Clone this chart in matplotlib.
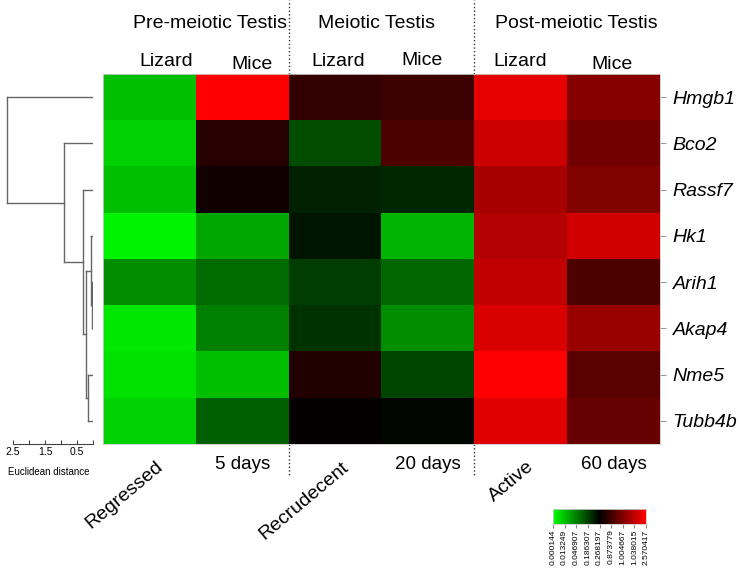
import numpy as np
import matplotlib
matplotlib.use('Agg')
import matplotlib.pyplot as plt
from matplotlib.colors import LinearSegmentedColormap

plt.rcParams['font.family'] = ['Liberation Sans', 'DejaVu Sans']

# data
genes = ['Hmgb1', 'Bco2', 'Rassf7', 'Hk1', 'Arih1', 'Akap4', 'Nme5', 'Tubb4b']
groups = ['Pre-meiotic Testis', 'Meiotic Testis', 'Post-meiotic Testis']
species = ['Lizard', 'Mice', 'Lizard', 'Mice', 'Lizard', 'Mice']
stages = ['Regressed', '5 days', 'Recrudecent', '20 days', 'Active', '60 days']
stage_rot = [40, 0, 40, 0, 40, 0]

# scaled expression (-1 = full green, 0 = black, 1 = full red)
hmgb1 = [-0.75, 1.00, 0.20, 0.24, 0.90, 0.53]
bco2 = [-0.82, 0.15, -0.30, 0.30, 0.80, 0.45]
rassf7 = [-0.75, 0.07, -0.14, -0.16, 0.65, 0.50]
hk1 = [-0.95, -0.65, -0.08, -0.70, 0.70, 0.82]
arih1 = [-0.55, -0.42, -0.24, -0.40, 0.75, 0.30]
akap4 = [-0.90, -0.50, -0.20, -0.55, 0.85, 0.60]
nme5 = [-0.88, -0.75, 0.13, -0.27, 1.00, 0.35]
tubb4b = [-0.82, -0.37, 0.02, -0.02, 0.88, 0.40]

# dendrogram merges: (left node, right node, height); leaves are 0..7, new nodes 8..
merges = [(4, 5, 0.02), (3, 8, 0.06), (6, 7, 0.16), (9, 10, 0.22),
          (2, 11, 0.31), (1, 12, 0.90), (0, 13, 2.69)]

cbar_labels = ['0.000144', '0.013249', '0.046907', '0.186307', '0.268197',
               '0.873779', '1.004667', '1.038015', '2.570417']

values = np.array([hmgb1, bco2, rassf7, hk1, arih1, akap4, nme5, tubb4b])
cmap = LinearSegmentedColormap.from_list('gbr', ['#00ff00', '#000000', '#ff0000'])

W, H = 740, 570
fig = plt.figure(figsize=(W / 100, H / 100), dpi=100)

def px(x0, y0, x1, y1):
    return [x0 / W, 1 - y1 / H, (x1 - x0) / W, (y1 - y0) / H]

# heatmap
ax = fig.add_axes(px(103, 74, 660, 444))
ax.imshow(values, cmap=cmap, vmin=-1, vmax=1, aspect='auto', interpolation='nearest')
ax.set_xticks([])
ax.yaxis.tick_right()
ax.set_yticks(range(len(genes)))
ax.set_yticklabels(genes, fontsize=14, style='italic')
ax.tick_params(axis='y', length=4, color='#999999', pad=5)
for s in ax.spines.values():
    s.set_color('#cccccc')
    s.set_linewidth(0.6)

for i, g in enumerate(groups):
    ax.text(2 * i + 0.5 + [0.15, -0.05, 0.1][i], -1.6, g, ha='center', va='center', fontsize=14)
sp_off = [0.18, 0.1, 0.03, -0.06, -0.01, -0.02]
sp_y = [-0.76, -0.7, -0.76, -0.8, -0.76, -0.7]
for j, s in enumerate(species):
    ax.text(j + sp_off[j], sp_y[j], s, ha='center', va='center', fontsize=14)
for j, s in enumerate(stages):
    if stage_rot[j]:
        ax.text(j + 0.12, 7.95, s, ha='right', va='center', rotation=stage_rot[j],
                rotation_mode='anchor', fontsize=14)
    else:
        ax.text(j, 7.95, s, ha='center', va='center', fontsize=13.5)

for xb in [1.5, 3.5]:
    ax.plot([xb, xb], [-0.5, -2.1], ls=':', color='#333333', lw=1, clip_on=False)
    ax.plot([xb, xb], [7.5, 8.22], ls=':', color='#333333', lw=1, clip_on=False)
ax.set_xlim(-0.5, len(species) - 0.5)
ax.set_ylim(len(genes) - 0.5, -0.5)

# dendrogram
dax = fig.add_axes(px(5, 74, 93, 444))
ypos = {i: float(i) for i in range(len(genes))}
hgt = {i: 0.0 for i in range(len(genes))}
node = len(genes)
for a, b, h in merges:
    for c in (a, b):
        dax.plot([hgt[c], h], [ypos[c], ypos[c]], color='#666666', lw=1)
    dax.plot([h, h], [ypos[a], ypos[b]], color='#666666', lw=1)
    ypos[node] = (ypos[a] + ypos[b]) / 2
    hgt[node] = h
    node += 1
dax.set_xlim(2.75, 0)
dax.set_ylim(7.5, -0.5)
for s in ['top', 'left', 'right']:
    dax.spines[s].set_visible(False)
dax.spines['bottom'].set_bounds(0, 2.5)
dax.spines['bottom'].set_color('#444444')
dax.set_yticks([])
ticks = np.arange(0, 2.51, 0.5)
dax.set_xticks(ticks)
dax.set_xticklabels(['' if t not in (0.5, 1.5, 2.5) else f'{t:.1f}' for t in ticks], fontsize=7.5)
dax.tick_params(axis='x', direction='in', length=3, pad=2, color='#444444')
dax.patch.set_alpha(0)
fig.text(49 / W, 1 - 472 / H, 'Euclidean distance', ha='center', va='center', fontsize=7)

# colour key
cax = fig.add_axes(px(553, 509, 646, 524))
grad = np.linspace(-1, 1, 256)[None, :]
cax.imshow(grad, cmap=cmap, aspect='auto', extent=[0, len(cbar_labels) - 1, 0, 1])
cax.set_yticks([])
cax.set_xticks(range(len(cbar_labels)))
cax.set_xticklabels(cbar_labels, rotation=90, fontsize=6)
cax.tick_params(axis='x', length=3, pad=1, color='#888888')
for s in cax.spines.values():
    s.set_color('#cccccc')
    s.set_linewidth(0.6)

fig.savefig('out.png', dpi=100)
